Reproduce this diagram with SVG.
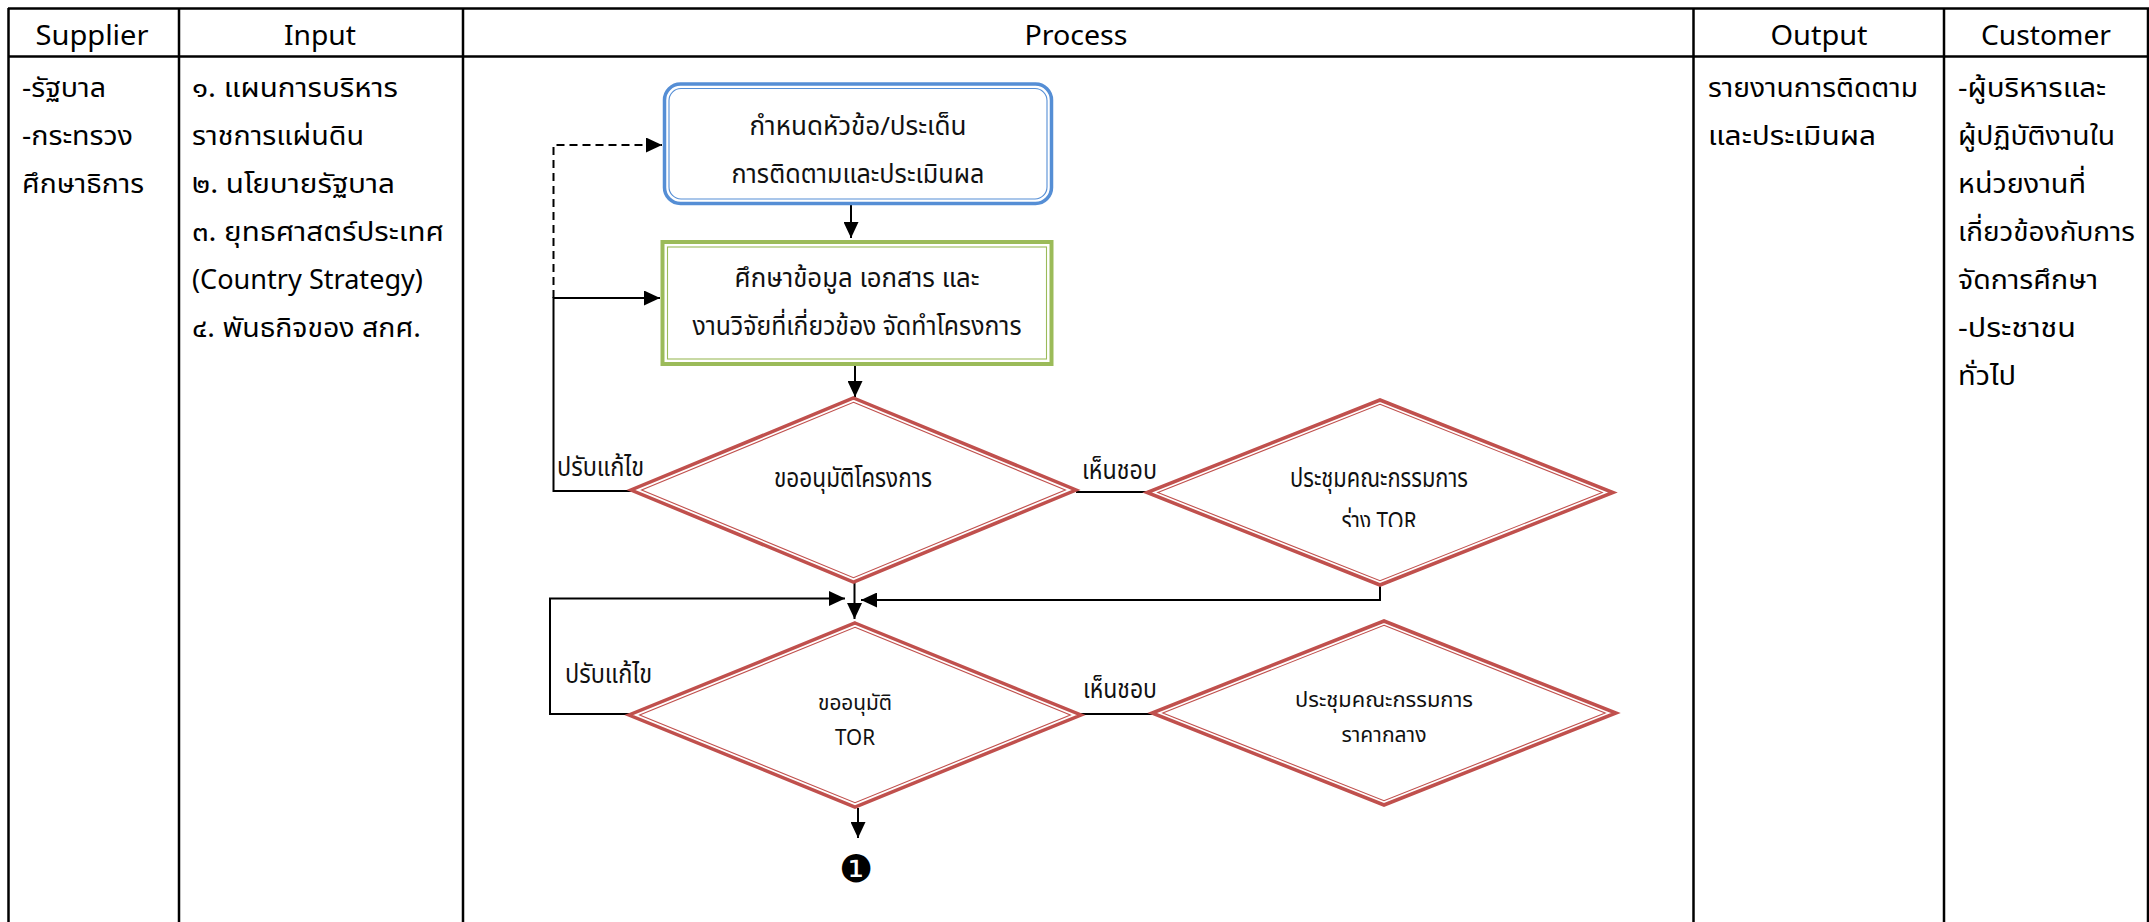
<svg xmlns="http://www.w3.org/2000/svg" width="2149" height="922" viewBox="0 0 2149 922">
<style>
.grid{stroke:#000;stroke-width:2.5;fill:none}
.hd{font-family:'Noto Sans','DejaVu Sans',sans-serif;font-size:27px;fill:#000;text-anchor:middle}
.tb{font-family:'Noto Sans Thai','Noto Sans','DejaVu Sans',sans-serif;font-size:27px;fill:#000}
.pr{font-family:'Noto Sans Thai','Noto Sans','DejaVu Sans',sans-serif;font-size:26px;fill:#111;text-anchor:middle}
.ps{font-family:'Noto Sans Thai','Noto Sans','DejaVu Sans',sans-serif;font-size:22px;fill:#111;text-anchor:middle}
.lb{font-family:'Noto Sans Thai','Noto Sans','DejaVu Sans',sans-serif;font-size:26px;fill:#111}
.con{stroke:#000;stroke-width:2;fill:none}
.dash{stroke:#000;stroke-width:2;fill:none;stroke-dasharray:8 5}
.dOut{fill:#fff;stroke:#C0504D;stroke-width:3.5;stroke-linejoin:miter}
.dIn{fill:none;stroke:#C0504D;stroke-width:1.1}
</style>
<defs>
<marker id="arr" markerUnits="userSpaceOnUse" markerWidth="16" markerHeight="15" viewBox="0 0 16 15" refX="16" refY="7.5" orient="auto">
<path d="M0,0 L16,7.5 L0,15 z" fill="#000"/>
</marker>
<clipPath id="clipTor"><rect x="1300" y="505" width="160" height="22"/></clipPath>
</defs>
<rect x="0" y="0" width="2149" height="922" fill="#fff"/>

<g id="table">
<line class="grid" x1="8" y1="8.5" x2="2149" y2="8.5"/>
<line class="grid" x1="8" y1="56.5" x2="2149" y2="56.5"/>
<line class="grid" x1="8.5" y1="8" x2="8.5" y2="922"/>
<line class="grid" x1="179" y1="8" x2="179" y2="922"/>
<line class="grid" x1="463" y1="8" x2="463" y2="922"/>
<line class="grid" x1="1693.5" y1="8" x2="1693.5" y2="922"/>
<line class="grid" x1="1944" y1="8" x2="1944" y2="922"/>
<line class="grid" x1="2148" y1="8" x2="2148" y2="922"/>
<text class="hd" x="92" y="45" textLength="113" lengthAdjust="spacingAndGlyphs">Supplier</text>
<text class="hd" x="320" y="45" textLength="72" lengthAdjust="spacingAndGlyphs">Input</text>
<text class="hd" x="1076" y="45" textLength="103" lengthAdjust="spacingAndGlyphs">Process</text>
<text class="hd" x="1819" y="45" textLength="97" lengthAdjust="spacingAndGlyphs">Output</text>
<text class="hd" x="2046" y="45" textLength="130" lengthAdjust="spacingAndGlyphs">Customer</text>
</g>

<g id="supplier">
<text class="tb" x="22" y="97" textLength="84" lengthAdjust="spacingAndGlyphs">-รัฐบาล</text>
<text class="tb" x="22" y="145" textLength="111" lengthAdjust="spacingAndGlyphs">-กระทรวง</text>
<text class="tb" x="22" y="193" textLength="122" lengthAdjust="spacingAndGlyphs">ศึกษาธิการ</text>
</g>

<g id="input">
<text class="tb" x="192" y="97" textLength="206" lengthAdjust="spacingAndGlyphs">๑. แผนการบริหาร</text>
<text class="tb" x="192" y="145" textLength="172" lengthAdjust="spacingAndGlyphs">ราชการแผ่นดิน</text>
<text class="tb" x="192" y="193" textLength="203" lengthAdjust="spacingAndGlyphs">๒. นโยบายรัฐบาล</text>
<text class="tb" x="192" y="241" textLength="252" lengthAdjust="spacingAndGlyphs">๓. ยุทธศาสตร์ประเทศ</text>
<text class="tb" x="192" y="289" textLength="231" lengthAdjust="spacingAndGlyphs">(Country Strategy)</text>
<text class="tb" x="192" y="337" textLength="229" lengthAdjust="spacingAndGlyphs">๔. พันธกิจของ สกศ.</text>
</g>

<g id="output">
<text class="tb" x="1708" y="97" textLength="210" lengthAdjust="spacingAndGlyphs">รายงานการติดตาม</text>
<text class="tb" x="1708" y="145" textLength="168" lengthAdjust="spacingAndGlyphs">และประเมินผล</text>
</g>

<g id="customer">
<text class="tb" x="1958" y="97" textLength="148" lengthAdjust="spacingAndGlyphs">-ผู้บริหารและ</text>
<text class="tb" x="1958" y="145" textLength="157" lengthAdjust="spacingAndGlyphs">ผู้ปฏิบัติงานใน</text>
<text class="tb" x="1958" y="193" textLength="128" lengthAdjust="spacingAndGlyphs">หน่วยงานที่</text>
<text class="tb" x="1958" y="241" textLength="177" lengthAdjust="spacingAndGlyphs">เกี่ยวข้องกับการ</text>
<text class="tb" x="1958" y="289" textLength="140" lengthAdjust="spacingAndGlyphs">จัดการศึกษา</text>
<text class="tb" x="1958" y="337" textLength="118" lengthAdjust="spacingAndGlyphs">-ประชาชน</text>
<text class="tb" x="1958" y="385" textLength="58" lengthAdjust="spacingAndGlyphs">ทั่วไป</text>
</g>

<g id="connectors">
<line class="con" x1="851" y1="205" x2="851" y2="238" marker-end="url(#arr)"/>
<line class="con" x1="855" y1="366" x2="855" y2="397" marker-end="url(#arr)"/>
<polyline class="con" points="631,491 553.5,491 553.5,298 660,298" marker-end="url(#arr)"/>
<polyline class="dash" points="553.5,298 553.5,145 662,145" marker-end="url(#arr)"/>
<line class="con" x1="1076" y1="492" x2="1147" y2="492"/>
<line class="con" x1="854.5" y1="583" x2="854.5" y2="619" marker-end="url(#arr)"/>
<polyline class="con" points="1380,584 1380,600 861,600" stroke-width="1.6" marker-end="url(#arr)"/>
<polyline class="con" points="629,714 550,714 550,598.5 845,598.5" marker-end="url(#arr)"/>
<line class="con" x1="1081" y1="714" x2="1152" y2="714"/>
<line class="con" x1="858" y1="808" x2="858" y2="838" marker-end="url(#arr)"/>
<text class="lb" x="557" y="476" textLength="87" lengthAdjust="spacingAndGlyphs">ปรับแก้ไข</text>
<text class="lb" x="1082" y="479" textLength="75" lengthAdjust="spacingAndGlyphs">เห็นชอบ</text>
<text class="lb" x="565" y="683" textLength="87" lengthAdjust="spacingAndGlyphs">ปรับแก้ไข</text>
<text class="lb" x="1083" y="698" textLength="74" lengthAdjust="spacingAndGlyphs">เห็นชอบ</text>
</g>

<g id="n1">
<rect x="664.5" y="84" width="387" height="119.5" rx="16" fill="#fff" stroke="#558ED5" stroke-width="3.5"/>
<rect x="669" y="88.5" width="378" height="110.5" rx="12" fill="none" stroke="#558ED5" stroke-width="1.1"/>
<text class="pr" x="858" y="135" textLength="217" lengthAdjust="spacingAndGlyphs">กำหนดหัวข้อ/ประเด็น</text>
<text class="pr" x="858" y="183" textLength="253" lengthAdjust="spacingAndGlyphs">การติดตามและประเมินผล</text>
</g>

<g id="n2">
<rect x="662.5" y="242" width="389" height="122" fill="#fff" stroke="#9BBB59" stroke-width="4"/>
<rect x="667.5" y="247" width="379" height="112" fill="none" stroke="#9BBB59" stroke-width="1.1"/>
<text class="pr" x="857" y="287" textLength="245" lengthAdjust="spacingAndGlyphs">ศึกษาข้อมูล เอกสาร และ</text>
<text class="pr" x="857" y="335" textLength="329" lengthAdjust="spacingAndGlyphs">งานวิจัยที่เกี่ยวข้อง จัดทำโครงการ</text>
</g>

<g id="n3">
<polygon class="dOut" points="853.5,398 1076,490 853.5,582 631,490"/>
<polygon class="dIn" points="853.5,402.3 1065.4,490 853.5,577.7 641.6,490"/>
<text class="pr" x="853" y="487" textLength="158" lengthAdjust="spacingAndGlyphs">ขออนุมัติโครงการ</text>
</g>

<g id="n4">
<polygon class="dOut" points="1380,400 1613,492.5 1380,585 1147,492.5"/>
<polygon class="dIn" points="1380,404.3 1602.2,492.5 1380,580.7 1157.8,492.5"/>
<text class="pr" x="1379" y="487" textLength="178" lengthAdjust="spacingAndGlyphs">ประชุมคณะกรรมการ</text>
<text class="pr" x="1379" y="530" textLength="75" lengthAdjust="spacingAndGlyphs" clip-path="url(#clipTor)">ร่าง TOR</text>
</g>

<g id="n5">
<polygon class="dOut" points="855,623 1081,715 855,807 629,715"/>
<polygon class="dIn" points="855,627.3 1070.4,715 855,802.7 639.6,715"/>
<text class="ps" x="855" y="710" textLength="74" lengthAdjust="spacingAndGlyphs">ขออนุมัติ</text>
<text class="ps" x="855" y="745" textLength="40" lengthAdjust="spacingAndGlyphs">TOR</text>
</g>

<g id="n6">
<polygon class="dOut" points="1384,621 1616,713 1384,805 1152,713"/>
<polygon class="dIn" points="1384,625.3 1605.2,713 1384,800.7 1162.8,713"/>
<text class="ps" x="1384" y="707" textLength="178" lengthAdjust="spacingAndGlyphs">ประชุมคณะกรรมการ</text>
<text class="ps" x="1384" y="742" textLength="85" lengthAdjust="spacingAndGlyphs">ราคากลาง</text>
</g>

<g id="n7">
<text x="856" y="882" font-family="'DejaVu Sans',sans-serif" font-size="38" text-anchor="middle" fill="#000">❶</text>
</g>
</svg>
